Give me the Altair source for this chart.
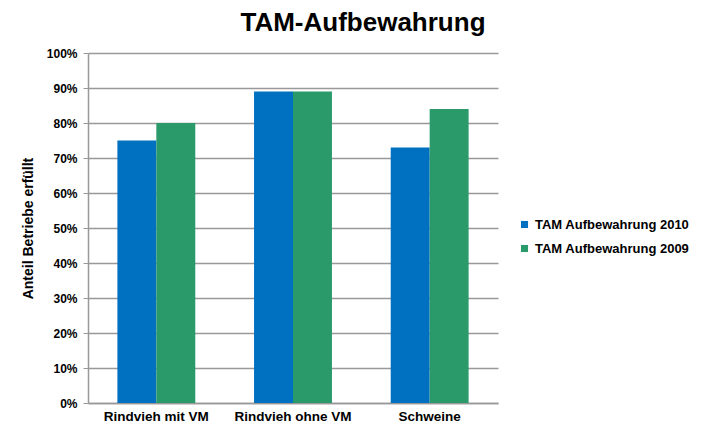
import altair as alt
import pandas as pd

categories = ["Rindvieh mit VM", "Rindvieh ohne VM", "Schweine"]
series = ["TAM Aufbewahrung 2010", "TAM Aufbewahrung 2009"]
values_2010 = [0.75, 0.89, 0.73]
values_2009 = [0.80, 0.89, 0.84]
y_ticks = [0, 0.1, 0.2, 0.3, 0.4, 0.5, 0.6, 0.7, 0.8, 0.9, 1.0]

rows = []
for c, v in zip(categories, values_2010):
    rows.append({"Kategorie": c, "Serie": series[0], "Wert": v})
for c, v in zip(categories, values_2009):
    rows.append({"Kategorie": c, "Serie": series[1], "Wert": v})
df = pd.DataFrame(rows)

font = "Liberation Sans"

chart = alt.Chart(df).mark_bar().encode(
    x=alt.X("Kategorie:N", sort=categories,
            scale=alt.Scale(paddingInner=0.43, paddingOuter=0.215),
            axis=alt.Axis(title=None, labelAngle=0, ticks=False, labelPadding=6,
                          labelFontSize=13.5, labelFontWeight="bold", labelColor="black",
                          labelFont=font, domainColor="#999999", domainWidth=1.5)),
    xOffset=alt.XOffset("Serie:N", sort=series),
    y=alt.Y("Wert:Q", scale=alt.Scale(domain=[0, 1]),
            axis=alt.Axis(title="Anteil Betriebe erfüllt", format=".0%", values=y_ticks,
                          tickSize=5, tickColor="#999999", labelPadding=6,
                          labelFontSize=12, labelFontWeight="bold", labelColor="black",
                          labelFont=font, titleFont=font, titleFontSize=14,
                          titleFontWeight="bold", titleColor="black", titlePadding=11,
                          gridColor="#999999", gridWidth=1.5, domainColor="#999999",
                          domainWidth=1.5)),
    color=alt.Color("Serie:N", sort=series,
                    scale=alt.Scale(domain=series, range=["#0070C0", "#2A9A6A"]),
                    legend=alt.Legend(title=None, orient="none", legendX=430, legendY=165,
                                      symbolType="square", symbolSize=50,
                                      symbolStrokeWidth=0, labelFontSize=13,
                                      labelFontWeight="bold", labelFont=font,
                                      labelColor="black", rowPadding=10, labelOffset=4,
                                      labelLimit=300)),
).properties(
    width=410,
    height=350,
    title=alt.TitleParams("TAM-Aufbewahrung", fontSize=26, fontWeight="bold",
                          font=font, color="black", anchor="middle", dx=70, offset=11),
    autosize=alt.AutoSizeParams(type="none"),
    padding={"left": 80, "top": 45, "right": 206, "bottom": 21},
).configure_view(stroke=None)

chart.save("out.html", embed_options={"renderer": "svg", "actions": False})
